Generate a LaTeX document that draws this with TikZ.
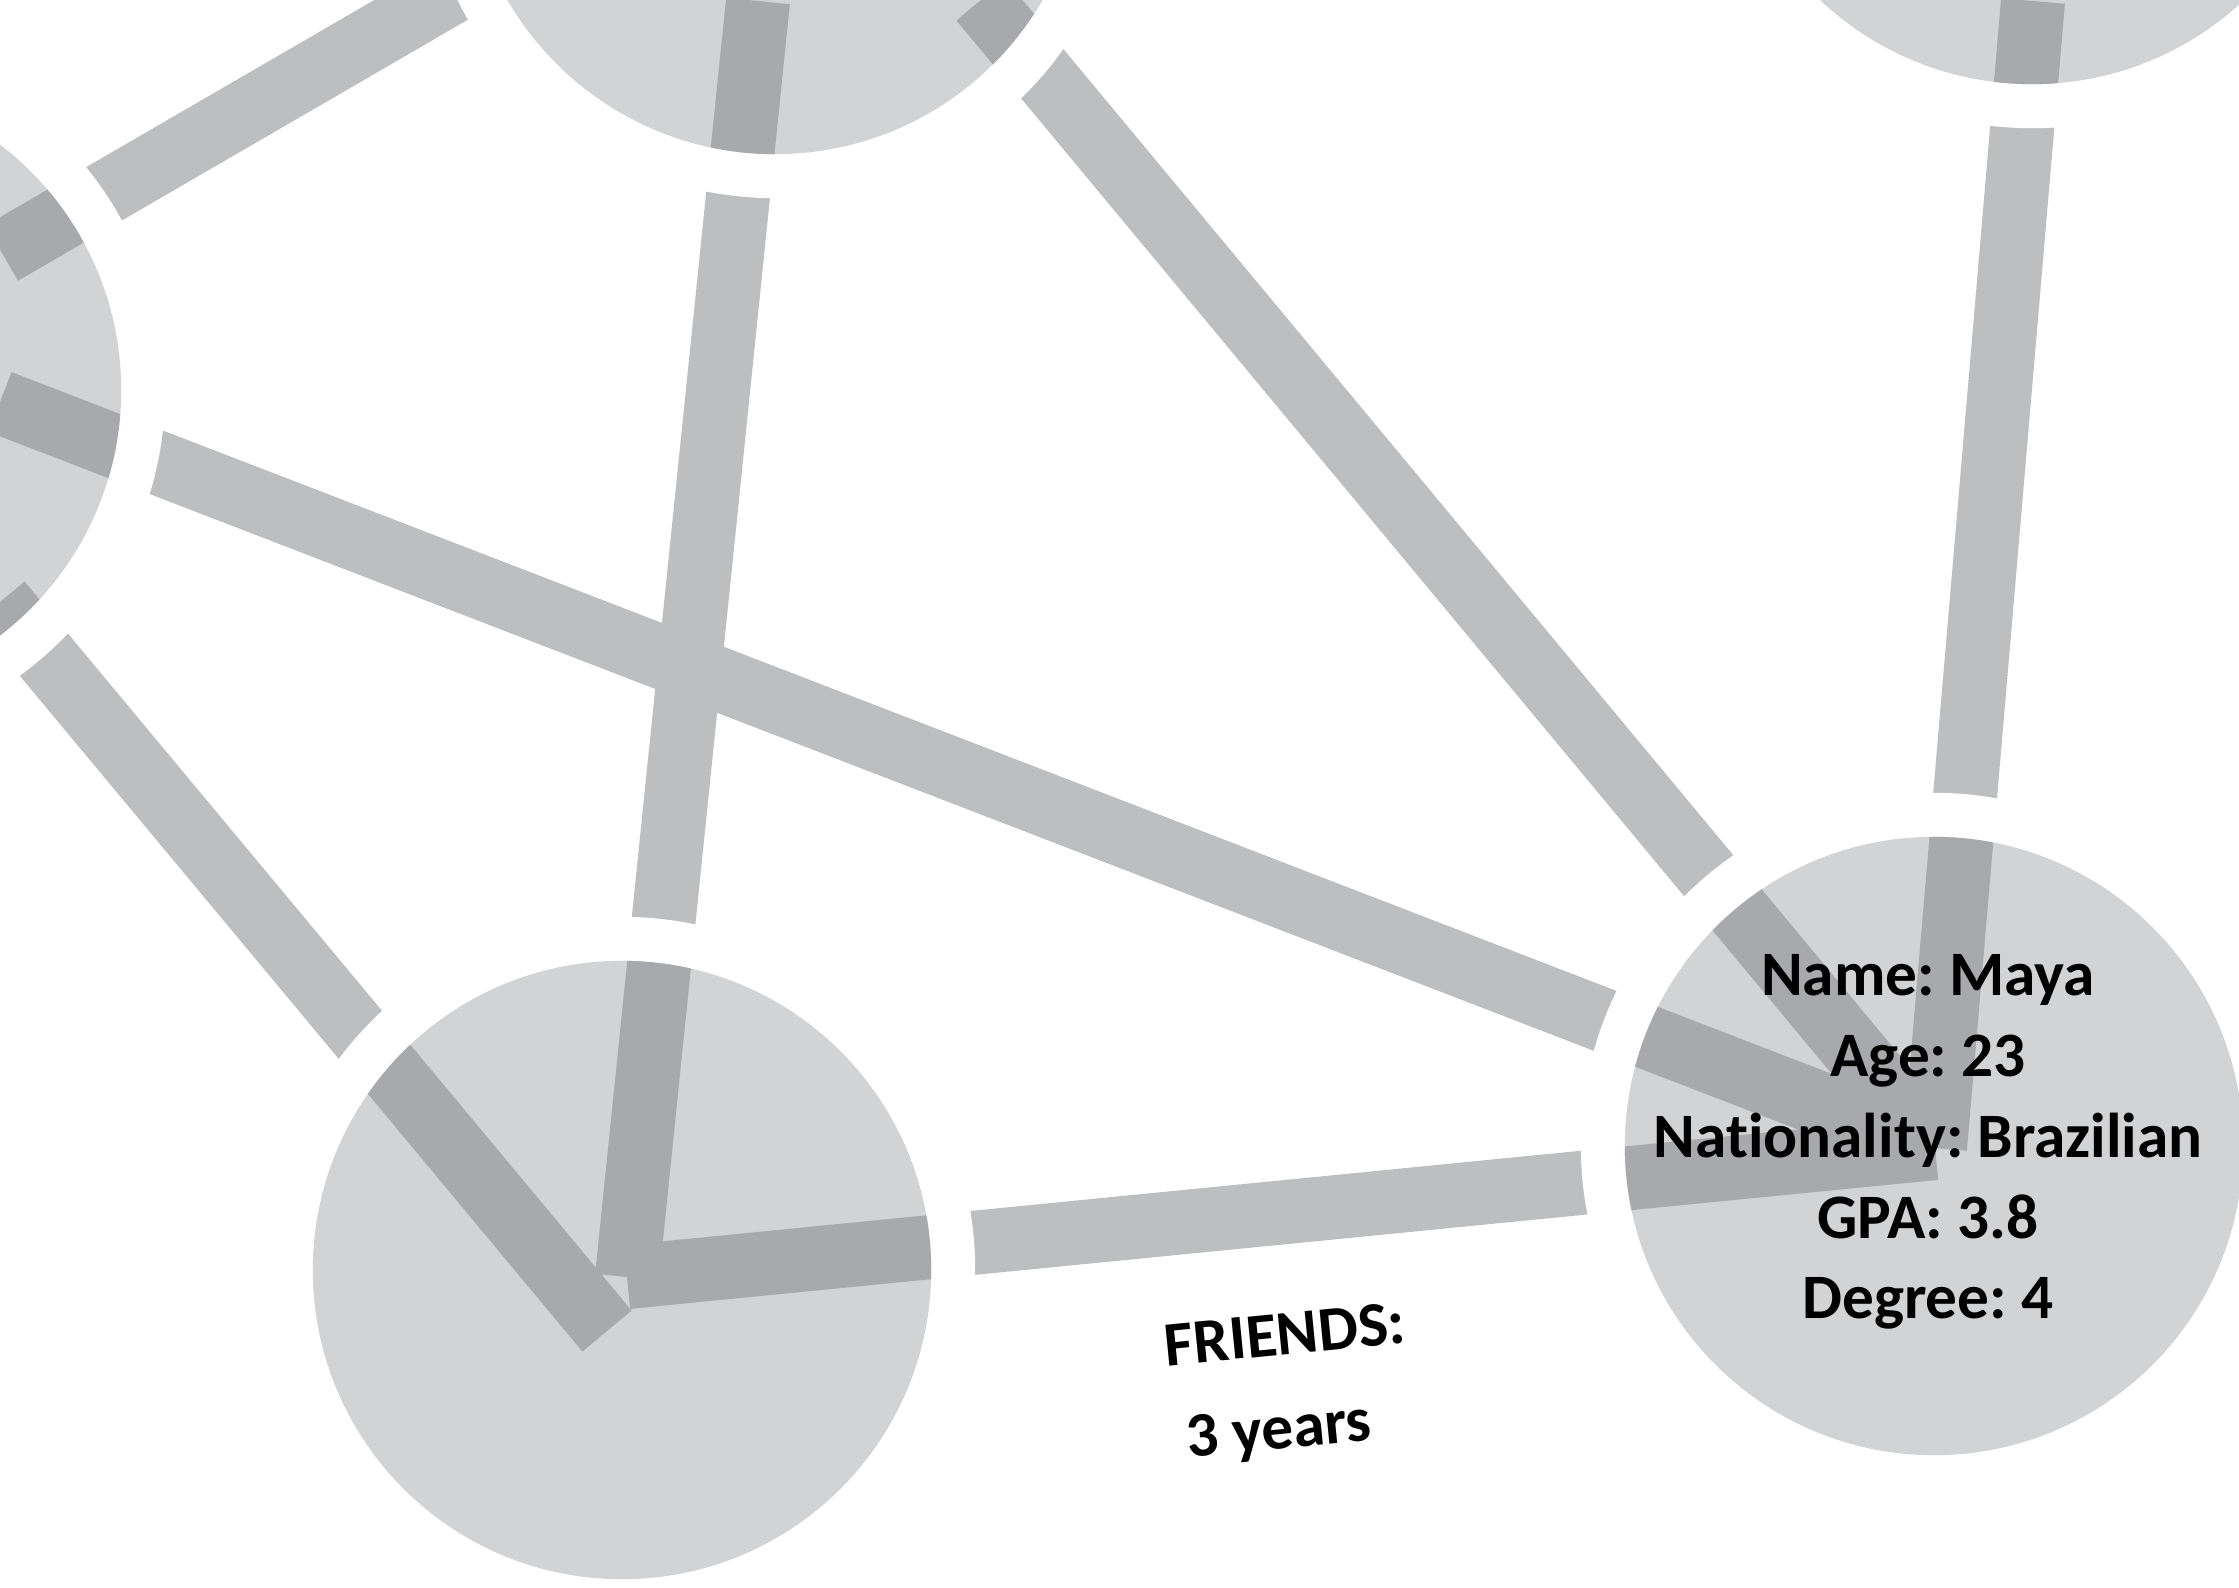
\documentclass[tikz,border=0pt]{standalone}
\usepackage{fontspec}
\setmainfont{Carlito}[Ligatures={NoCommon}]
\frenchspacing
\definecolor{edgegray}{HTML}{BCBEC0}
\definecolor{nodegray}{HTML}{D1D3D4}
\definecolor{darkgray}{HTML}{A7A9AC}
\newcommand\drawedges[1]{%
  \draw[#1] (L-T) -- (T-L);
  \draw[#1] (L-M) -- (Mc);
  \draw[#1] (L-B) -- (B-L);
  \draw[#1] (T-B) -- (Bc);
  \draw[#1] (T-M) -- (Mc);
  \draw[#1] (TR-M) -- (Mc);
  \draw[#1] (Bc) -- (Mc);
}
\begin{document}
\begin{tikzpicture}[x=0.01cm,y=-0.01cm,
  edgeline/.style={line width=0.64cm, line cap=butt},
  halo/.style={fill=white},
  person/.style={circle, fill=nodegray, minimum size=6.18cm, inner sep=0pt, outer sep=0pt},
  info/.style={font=\bfseries\fontsize{18}{23}\selectfont, align=center, inner sep=0pt},
  rel/.style={font=\bfseries\fontsize{18}{24.5}\selectfont, inner sep=0pt, rotate=5.6}]
\useasboundingbox (0,0) rectangle (2239,1587);
\clip (0,0) rectangle (2239,1587);
% node centres
\coordinate (cL) at (-188,390);
\coordinate (cT) at (775,-155);
\coordinate (cTR) at (2032,-225);
\coordinate (cB) at (622,1270);
\coordinate (cM) at (1934,1146);
% connector end points
\coordinate (L-T) at (2,253);
\coordinate (T-L) at (700,-152);
\coordinate (L-M) at (0,402);
\coordinate (Mc) at (1935,1148);
\coordinate (L-B) at (0,602);
\coordinate (B-L) at (607,1331);
\coordinate (T-B) at (758,1);
\coordinate (Bc) at (627,1277);
\coordinate (T-M) at (981,0);
\coordinate (TR-M) at (2033,1);
% connectors
\drawedges{edgeline, edgegray}
% white gaps round the nodes
\foreach \c in {cL,cT,cTR,cB,cM} \fill[halo] (\c) circle[radius=3.53cm];
% nodes
\node[person] (L) at (cL) {};
\node[person] (T) at (cT) {};
\node[person] (TR) at (cTR) {};
\node[person] (B) at (cB) {};
\node[person] (M) at (cM) {};
% connectors seen through the nodes
\foreach \c in {cL,cT,cTR,cB,cM}{
  \begin{scope}
    \clip (\c) circle[radius=3.09cm];
    \drawedges{edgeline, darkgray}
  \end{scope}
}
% texts
\node[info] (Mtext) at (1928,1142) {Name: Maya\\Age: 23\\Nationality: Brazilian\\GPA: 3.8\\Degree: 4};
\node[rel] (friends) at (1285,1334) {FRIENDS:};
\node[rel] (years) at (1279,1433) {3 years};
\end{tikzpicture}
\end{document}
